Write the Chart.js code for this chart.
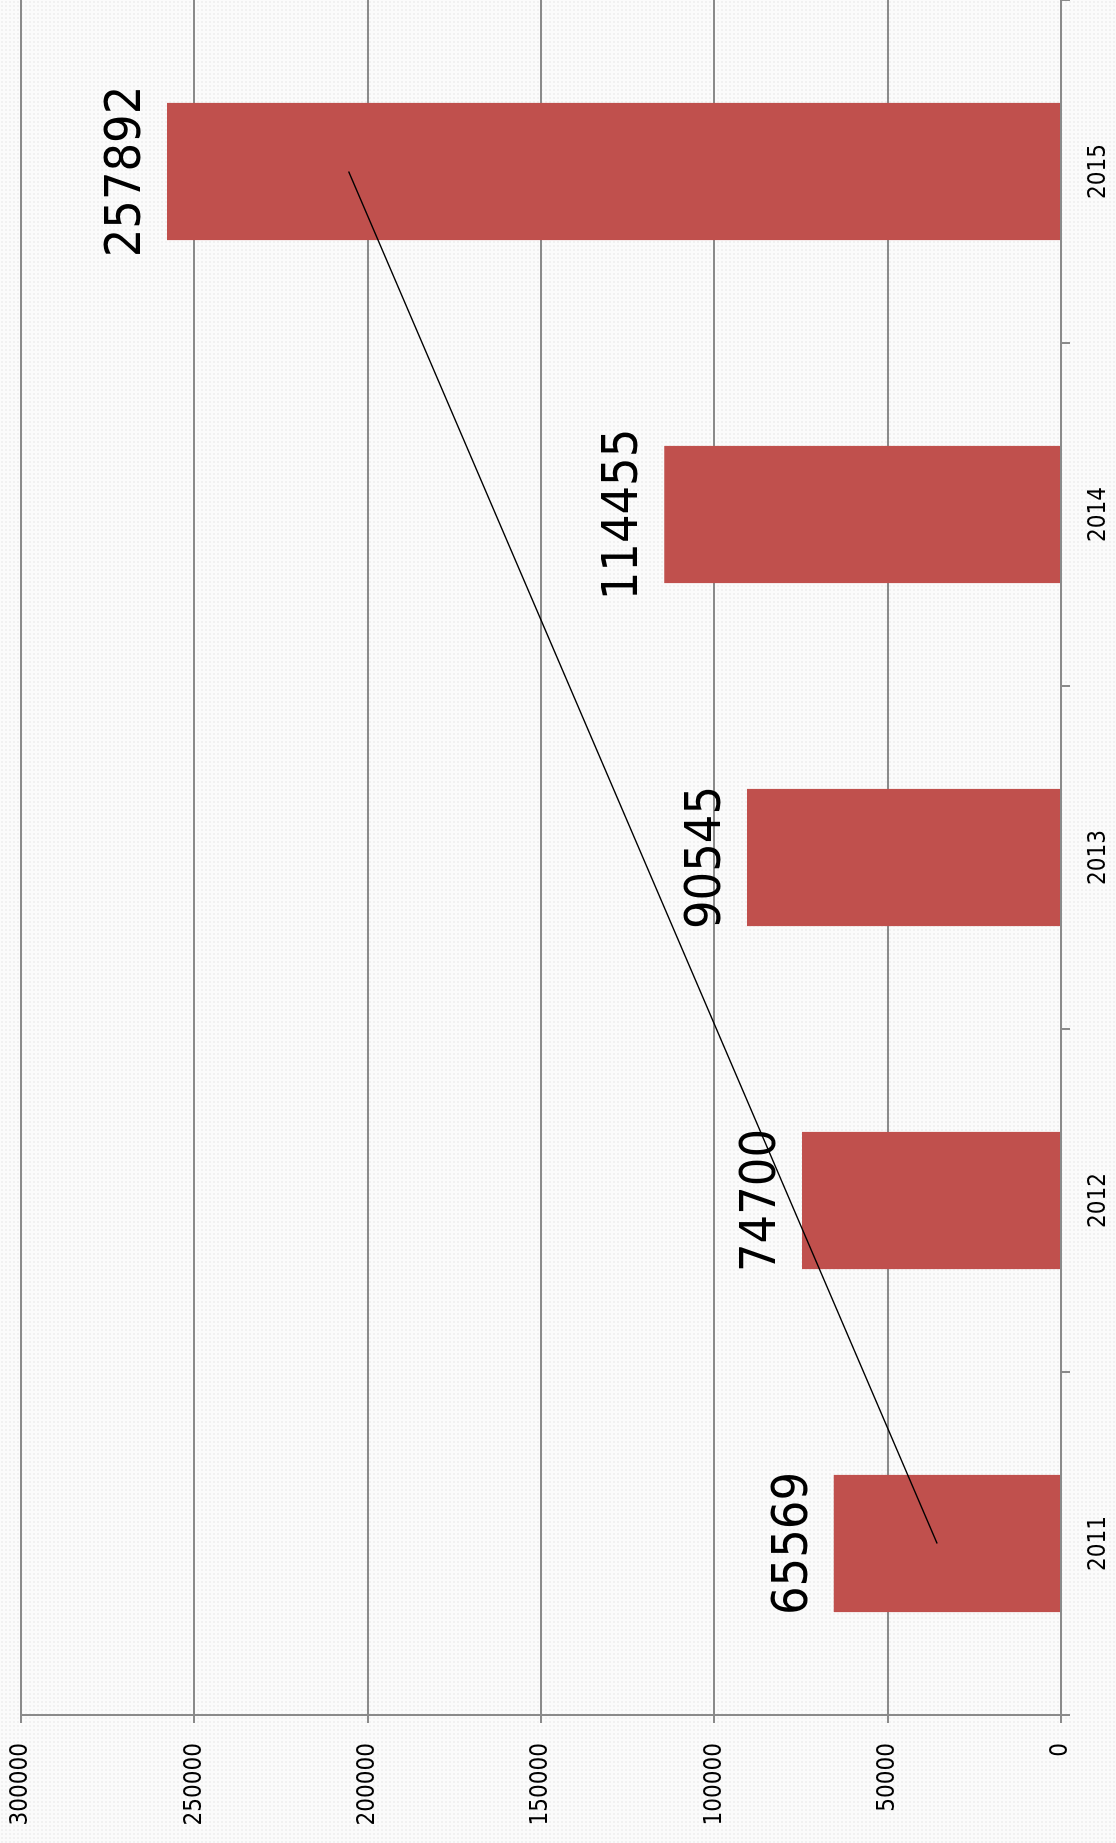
<!DOCTYPE html>
<html>
<head>
<meta charset="utf-8">
<script src="https://cdn.jsdelivr.net/npm/chart.js"></script>
<style>
    html, body {
        margin: 0;
        padding: 0;
        width: 1116px;
        height: 1843px;
        overflow: hidden;
        background-color: #fbfbfb;
        background-image: radial-gradient(#f1f1f1 1px, transparent 1px);
        background-size: 4px 4px;
    }
    #chartBox {
        position: absolute;
        left: 0;
        top: 0;
        width: 1843px;
        height: 1116px;
        transform-origin: 0 0;
        transform: translate(0, 1843px) rotate(-90deg);
    }
</style>
</head>
<body>
<div id="chartBox">
    <canvas id="yearsChart" width="1843" height="1116" style="width:1843px;height:1116px"></canvas>
</div>
<script>
const years = ['2011', '2012', '2013', '2014', '2015'];
const totals = [65569, 74700, 90545, 114455, 257892];
// linear trend, read at the first and last year
const trend = [35750, null, null, null, 205500];
const valueTicks = [0, 50000, 100000, 150000, 200000, 250000, 300000];

const FONT = "'DejaVu Sans Condensed', 'DejaVu Sans', sans-serif";
const GRID = '#8a8a8a';

const barLabels = {
    id: 'barLabels',
    afterDatasetsDraw(chart) {
        const ctx = chart.ctx;
        const meta = chart.getDatasetMeta(1);
        ctx.save();
        ctx.fillStyle = '#000';
        ctx.font = '50px ' + FONT;
        ctx.textAlign = 'center';
        ctx.textBaseline = 'alphabetic';
        meta.data.forEach(function (bar, i) {
            ctx.fillText(String(totals[i]), bar.x, bar.y - 27);
        });
        ctx.restore();
    }
};

new Chart(document.getElementById('yearsChart'), {
    data: {
        labels: years,
        datasets: [
            {
                type: 'line',
                label: 'trend',
                data: trend,
                spanGaps: true,
                borderColor: '#000',
                borderWidth: 1.5,
                pointRadius: 0,
                order: 0
            },
            {
                type: 'bar',
                label: 'total',
                data: totals,
                backgroundColor: '#c0504d',
                borderWidth: 0,
                barPercentage: 0.4,
                categoryPercentage: 1.0,
                order: 1
            }
        ]
    },
    options: {
        responsive: false,
        devicePixelRatio: 1,
        animation: false,
        layout: {padding: {top: 21, right: 0, bottom: 0, left: 0}},
        plugins: {
            legend: {display: false},
            tooltip: {enabled: false}
        },
        scales: {
            x: {
                offset: true,
                grid: {
                    offset: true,
                    drawOnChartArea: false,
                    drawTicks: true,
                    tickLength: 9,
                    color: GRID,
                    lineWidth: 2
                },
                border: {display: true, color: GRID, width: 2},
                ticks: {
                    color: '#000',
                    padding: 14,
                    maxRotation: 0,
                    font: {family: FONT, size: 24}
                },
                afterFit: function (scale) {
                    scale.height = 55;
                    scale.paddingLeft = 0;
                    scale.paddingRight = 0;
                }
            },
            y: {
                min: 0,
                max: 300000,
                afterBuildTicks: function (scale) {
                    scale.ticks = valueTicks.map(v => ({value: v}));
                },
                grid: {
                    color: GRID,
                    lineWidth: 2,
                    tickLength: 8
                },
                border: {display: true, color: GRID, width: 2},
                ticks: {
                    color: '#000',
                    padding: 20,
                    font: {family: FONT, size: 24},
                    callback: function (value) {
                        return String(value);
                    }
                },
                afterFit: function (scale) {
                    scale.width = 128;
                    scale.paddingTop = 0;
                    scale.paddingBottom = 0;
                }
            }
        }
    },
    plugins: [barLabels]
});
</script>
</body>
</html>
